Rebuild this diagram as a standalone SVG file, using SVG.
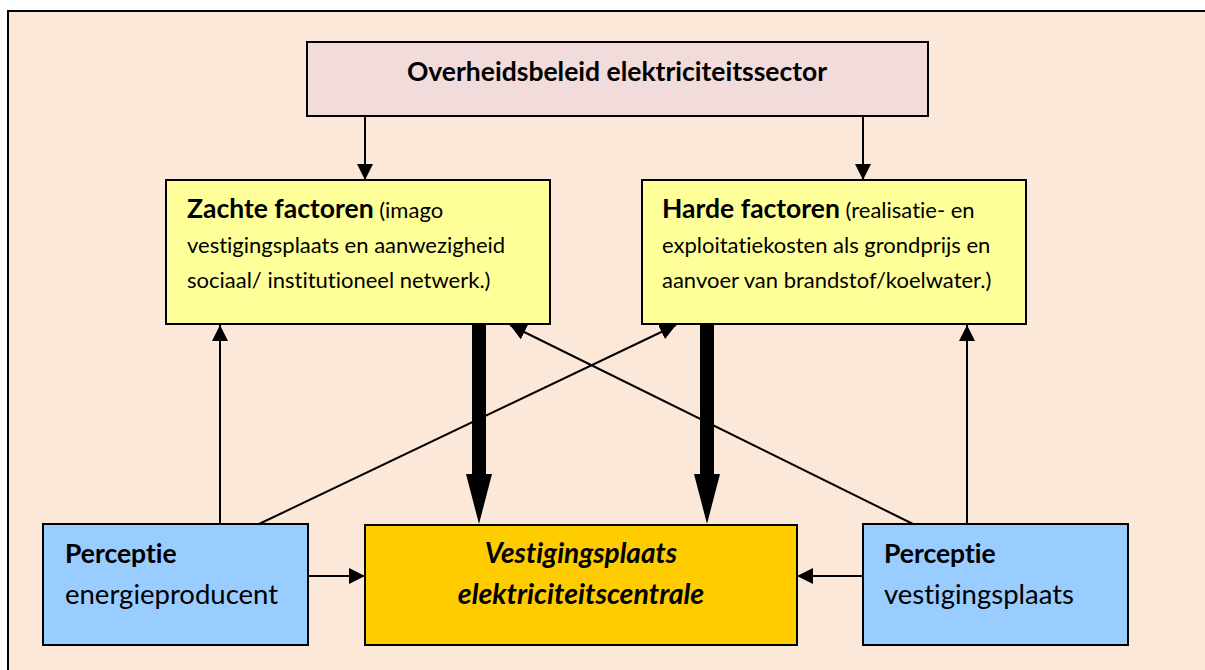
<svg xmlns="http://www.w3.org/2000/svg" width="1205" height="670" viewBox="0 0 1205 670">
<defs>
<style>
.box{stroke:#000;stroke-width:2}
.t{font-family:Lato,"Liberation Sans",sans-serif;fill:#000;font-variant-ligatures:none}
.b{font-weight:bold}
.ln{stroke:#000;stroke-width:2;fill:none}
</style>
<marker id="ah" markerWidth="16" markerHeight="16" viewBox="0 0 16 16" refX="16" refY="8" orient="auto" markerUnits="userSpaceOnUse"><path d="M0,0 L16,8 L0,16 Z" fill="#000"/></marker>
</defs>
<rect x="8" y="11" width="1200" height="670" fill="#FCE8D9" stroke="#000" stroke-width="2"/>
<g id="top"><rect class="box" x="307" y="42" width="621" height="74" fill="#F2DCDB"/>
<text class="t b" x="617" y="81" font-size="26.5" text-anchor="middle">Overheidsbeleid elektriciteitssector</text></g>
<g id="zacht"><rect class="box" x="166" y="180" width="384" height="144" fill="#FFFF99"/>
<text class="t" x="187" y="218" font-size="22"><tspan class="b" font-size="26.5">Zachte factoren</tspan> (imago</text>
<text class="t" x="187" y="253" font-size="22">vestigingsplaats en aanwezigheid</text>
<text class="t" x="187" y="288" font-size="22">sociaal/ institutioneel netwerk.)</text></g>
<g id="hard"><rect class="box" x="642" y="180" width="384" height="144" fill="#FFFF99"/>
<text class="t" x="662" y="218" font-size="22"><tspan class="b" font-size="26.5">Harde factoren</tspan> (realisatie- en</text>
<text class="t" x="662" y="253" font-size="22">exploitatiekosten als grondprijs en</text>
<text class="t" x="662" y="288" font-size="22">aanvoer van brandstof/koelwater.)</text></g>
<g id="pe"><rect class="box" x="43" y="524" width="265" height="121" fill="#99CCFF"/>
<text class="t b" x="65" y="563" font-size="26.5">Perceptie</text>
<text class="t" x="65" y="604" font-size="27.5">energieproducent</text></g>
<g id="vest"><rect class="box" x="365" y="525" width="432" height="120" fill="#FFCC00"/>
<text class="t b" x="581" y="563" font-size="28" font-style="italic" text-anchor="middle">Vestigingsplaats</text>
<text class="t b" x="581" y="604" font-size="28.5" font-style="italic" text-anchor="middle">elektriciteitscentrale</text></g>
<g id="pv"><rect class="box" x="863" y="524" width="265" height="121" fill="#99CCFF"/>
<text class="t b" x="884" y="563" font-size="26.5">Perceptie</text>
<text class="t" x="884" y="604" font-size="27.5">vestigingsplaats</text></g>
<g id="connectors">
<line class="ln" x1="365" y1="116" x2="365" y2="180" marker-end="url(#ah)"/>
<line class="ln" x1="863" y1="116" x2="863" y2="180" marker-end="url(#ah)"/>
<line class="ln" x1="220" y1="524" x2="220" y2="325" marker-end="url(#ah)"/>
<line class="ln" x1="967" y1="524" x2="967" y2="325" marker-end="url(#ah)"/>
<line class="ln" x1="259" y1="524" x2="676" y2="325" marker-end="url(#ah)"/>
<line class="ln" x1="913" y1="524" x2="510" y2="325" marker-end="url(#ah)"/>
<line class="ln" x1="308" y1="576" x2="365" y2="576" marker-end="url(#ah)"/>
<line class="ln" x1="863" y1="576" x2="797" y2="576" marker-end="url(#ah)"/>
<path d="M472,324 H486 V474 H492 L479,524 L466,474 H472 Z" fill="#000"/>
<path d="M700,324 H714 V474 H720 L707,524 L694,474 H700 Z" fill="#000"/>
</g>
</svg>
